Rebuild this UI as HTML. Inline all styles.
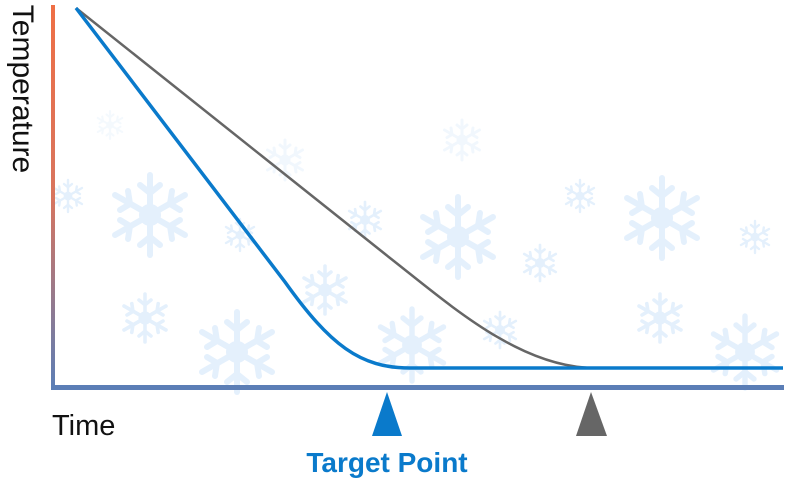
<!DOCTYPE html>
<html><head><meta charset="utf-8"><style>
html,body{margin:0;padding:0;background:#fff;width:800px;height:480px;overflow:hidden}
svg{display:block}
text{font-family:"Liberation Sans",sans-serif}
</style></head><body>
<svg width="800" height="480" viewBox="0 0 800 480">
<defs>
<linearGradient id="ax" x1="0" y1="0" x2="0" y2="1">
<stop offset="0" stop-color="#ef6f45"/><stop offset="0.5" stop-color="#d8755f"/><stop offset="1" stop-color="#5b7eb6"/>
</linearGradient>
<g id="sf" stroke="#d6e8fb" stroke-width="6" stroke-linecap="round" fill="none">
<line x1="0" y1="-40" x2="0" y2="40"/><line x1="-35" y1="-20" x2="35" y2="20"/><line x1="-35" y1="20" x2="35" y2="-20"/>
<path d="M-10 -30 L0 -22 L10 -30 M-10 30 L0 22 L10 30 M-30 -5 L-20 -11 L-22 -24 M30 5 L20 11 L22 24 M-30 5 L-20 11 L-22 24 M30 -5 L20 -11 L22 -24"/>
<circle r="8" fill="#d6e8fb"/>
</g>
</defs>
<g opacity="0.65">
<use href="#sf" transform="translate(150,215) scale(1)"/>
<use href="#sf" transform="translate(458,237) scale(1)"/>
<use href="#sf" transform="translate(662,218) scale(1)"/>
<use href="#sf" transform="translate(237,352) scale(1)"/>
<use href="#sf" transform="translate(412,345) scale(0.9)"/>
<use href="#sf" transform="translate(745,352) scale(0.9)"/>
<use href="#sf" transform="translate(145,318) scale(0.6)"/>
<use href="#sf" transform="translate(325,290) scale(0.6)"/>
<use href="#sf" transform="translate(660,318) scale(0.6)"/>
<use href="#sf" transform="translate(540,263) scale(0.45)"/>
<use href="#sf" transform="translate(580,196) scale(0.4)"/>
<use href="#sf" transform="translate(365,220) scale(0.45)"/>
<use href="#sf" transform="translate(240,235) scale(0.4)"/>
<use href="#sf" transform="translate(68,196) scale(0.4)"/>
<use href="#sf" transform="translate(755,237) scale(0.4)"/>
<use href="#sf" transform="translate(500,330) scale(0.45)"/>
<use href="#sf" transform="translate(285,160) scale(0.5)" opacity="0.5"/>
<use href="#sf" transform="translate(462,140) scale(0.5)" opacity="0.5"/>
<use href="#sf" transform="translate(110,125) scale(0.35)" opacity="0.4"/>
</g>
<rect x="51" y="5" width="4" height="384" fill="url(#ax)"/>
<rect x="51" y="385" width="733" height="5" fill="#5b7eb6"/>
<path d="M76 8 L390 258 C450 305 520 368 595 368 L783 368" fill="none" stroke="#666" stroke-width="2.5"/>
<path d="M76 8 L285 282 C330 345 360 368 410 368 L783 368" fill="none" stroke="#0a7acb" stroke-width="3.5"/>
<polygon points="387,392 402,436 372,436" fill="#0a7acb"/>
<polygon points="591,392 607,436 576,436" fill="#666"/>
<text x="52" y="435" font-size="29" fill="#111">Time</text>
<text x="387" y="472" font-size="28" font-weight="bold" fill="#0a7acb" text-anchor="middle">Target Point</text>
<text transform="translate(13,89) rotate(90)" font-size="30" fill="#111" text-anchor="middle">Temperature</text>
</svg>
</body></html>
